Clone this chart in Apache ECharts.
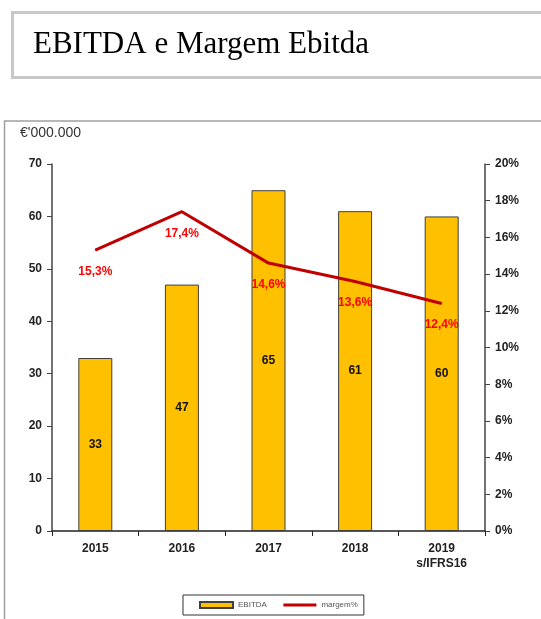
<!DOCTYPE html>
<html>
<head>
<meta charset="utf-8">
<script src="https://cdn.jsdelivr.net/npm/echarts@6/dist/echarts.min.js"></script>
<style>
  html, body { margin: 0; padding: 0; background: #fff; }
  #chart { width: 541px; height: 619px; }
</style>
</head>
<body>
<div id="chart"></div>
<script>
// dados
var anos = ["2015", "2016", "2017", "2018", "2019\ns/IFRS16"];
var ebitda = [33, 47, 65, 61, 60];
var margem = [15.3, 17.4, 14.6, 13.6, 12.4];
var margemTxt = ["15,3%", "17,4%", "14,6%", "13,6%", "12,4%"];

var myChart = echarts.init(document.getElementById("chart"));

var eixoFonte = { fontFamily: "Arial, 'Liberation Sans'", fontWeight: "bold", fontSize: 12, color: "#222" };

var option = {
    animation: false,
    // caixa do titulo e moldura do grafico
    graphic: [
        { type: "rect", shape: { x: 12.5, y: 12.5, width: 560, height: 65 },
          style: { fill: "#fff", stroke: "#c8c8c8", lineWidth: 3 } },
        { type: "text", left: 33, top: 29,
          style: { text: "EBITDA e Margem Ebitda", font: "31px 'Liberation Serif', 'Times New Roman', serif", fill: "#000" } },
        { type: "rect", shape: { x: 4.5, y: 121, width: 600, height: 600 },
          style: { fill: "none", stroke: "#a0a0a0", lineWidth: 1.5 } },
        { type: "text", left: 20, top: 126,
          style: { text: "€'000.000", font: "14px Arial, 'Liberation Sans'", fill: "#333" } }
    ],
    grid: { left: 52, right: 56, top: 164, bottom: 88 },
    legend: {
        left: 183, top: 595,
        padding: [6, 6, 6, 16],
        borderColor: "#333", borderWidth: 1,
        itemWidth: 33, itemHeight: 6, itemGap: 15,
        textStyle: { fontSize: 8, color: "#555", fontFamily: "Arial, 'Liberation Sans'" },
        data: [
            { name: "EBITDA", icon: "rect" },
            { name: "margem%", itemStyle: { opacity: 0 }, lineStyle: { width: 3, color: "#c00000" } }
        ]
    },
    xAxis: {
        type: "category",
        data: anos,
        axisLine: { lineStyle: { color: "#222", width: 1.5 } },
        axisTick: { show: true, length: 5, lineStyle: { color: "#222" } },
        axisLabel: Object.assign({ margin: 10, lineHeight: 15 }, eixoFonte)
    },
    yAxis: [
        {
            type: "value", min: 0, max: 70, interval: 10,
            splitLine: { show: false },
            axisLine: { show: true, lineStyle: { color: "#444", width: 1.5 } },
            axisTick: { show: true, length: 5, lineStyle: { color: "#444" } },
            axisLabel: Object.assign({ margin: 10 }, eixoFonte)
        },
        {
            type: "value", min: 0, max: 20, interval: 2,
            splitLine: { show: false },
            axisLine: { show: true, lineStyle: { color: "#444", width: 1.5 } },
            axisTick: { show: true, length: 5, lineStyle: { color: "#444" } },
            axisLabel: Object.assign({ margin: 10, formatter: "{value}%" }, eixoFonte)
        }
    ],
    series: [
        {
            name: "EBITDA",
            type: "bar",
            barWidth: 34,
            data: ebitda,
            itemStyle: { color: "#ffc000", borderColor: "#404040", borderWidth: 1 },
            label: { show: true, position: "inside", color: "#111", fontWeight: "bold", fontSize: 12, fontFamily: "Arial, 'Liberation Sans'" }
        },
        {
            name: "margem%",
            type: "line",
            yAxisIndex: 1,
            symbol: "circle",
            symbolSize: 1,
            showSymbol: true,
            data: margem,
            lineStyle: { color: "#c00000", width: 3 },
            itemStyle: { color: "#c00000" },
            label: {
                show: true, position: "bottom", distance: 15,
                color: "#ff0000", fontWeight: "bold", fontSize: 12, fontFamily: "Arial, 'Liberation Sans'",
                formatter: function (p) { return margemTxt[p.dataIndex]; }
            }
        }
    ]
};

myChart.setOption(option);
</script>
</body>
</html>
